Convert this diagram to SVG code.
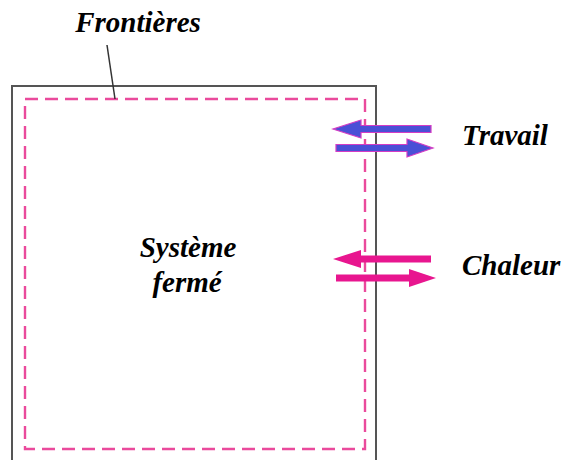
<svg xmlns="http://www.w3.org/2000/svg" width="566" height="460" viewBox="0 0 566 460">
<style>
.lbl{font-family:"Liberation Serif","Times New Roman",serif;font-weight:bold;font-style:italic;font-size:29px;fill:#000}
.work{fill:#4a4fd6;stroke:#d43cc4;stroke-width:1.2}
.heat{fill:#e8168f}
</style>
<rect width="566" height="460" fill="#fff"/>
<g id="boundary">
<path d="M12,462 V86 H376 V462" fill="none" stroke="#555" stroke-width="2"/>
<rect x="25" y="99" width="340" height="350" fill="none" stroke="#ea4a9c" stroke-width="2.4" stroke-dasharray="13,7"/>
</g>
<g id="frontieres">
<text class="lbl" x="138" y="32" text-anchor="middle">Frontières</text>
</g>
<g id="systeme">
<text class="lbl" x="188" y="257" text-anchor="middle">Système</text>
<text class="lbl" x="187" y="292" text-anchor="middle">fermé</text>
</g>
<g id="travail">
<text class="lbl" x="462" y="145">Travail</text>
</g>
<g id="chaleur">
<text class="lbl" x="462" y="275">Chaleur</text>
</g>
<g id="connectors">
<line x1="107" y1="45" x2="115" y2="99" stroke="#333" stroke-width="1.5"/>
<path class="work" d="M431,125.5 V132.5 H361 V138 L333,129 L361,120 V125.5 Z"/>
<path class="work" d="M336,144.5 V151.5 H407 V157 L433,148 L407,139 V144.5 Z"/>
<path class="heat" d="M431,255.5 V262.5 H361 V268 L333,259 L361,250 V255.5 Z"/>
<path class="heat" d="M336,274.5 V281.5 H409 V287 L436,278 L409,269 V274.5 Z"/>
</g>
</svg>
